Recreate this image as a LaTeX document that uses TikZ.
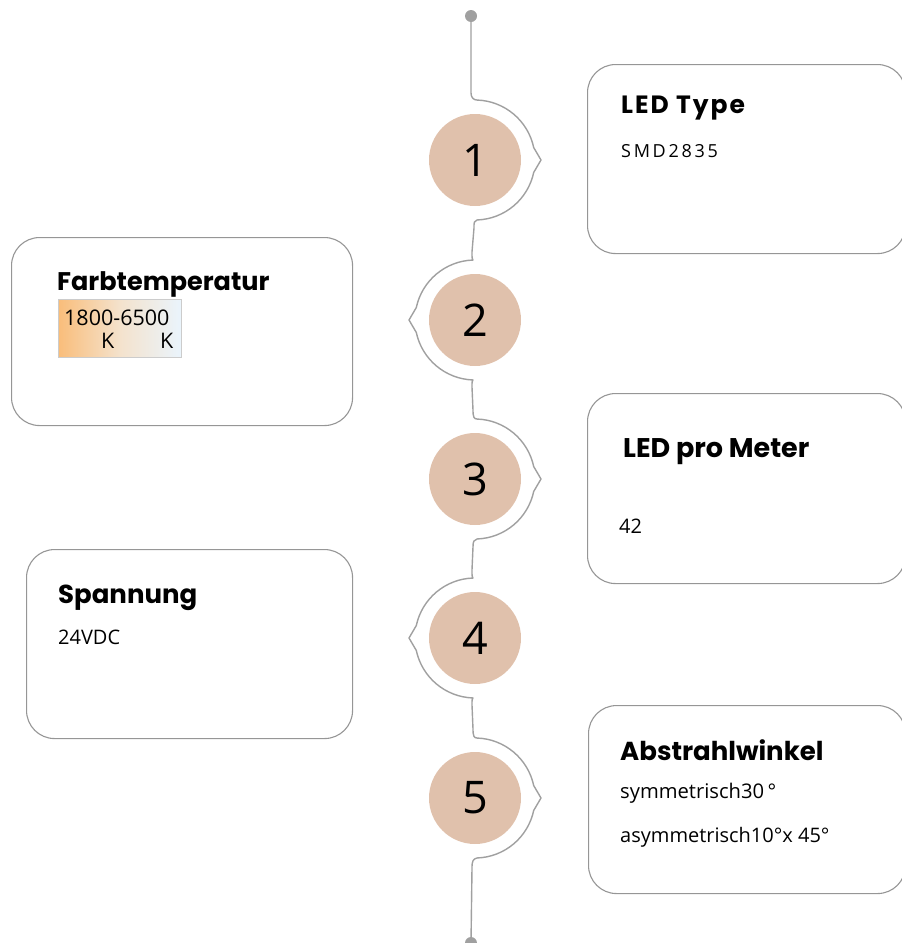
\documentclass[tikz,border=0pt]{standalone}
\usepackage{fontspec}
\setmainfont{Open Sans}
\newfontfamily\titlefont{Poppins}
\usetikzlibrary{calc}
\definecolor{peach}{RGB}{224,193,172}
\definecolor{wiregray}{RGB}{160,160,160}
\definecolor{boxgray}{RGB}{150,150,150}
\definecolor{gorange}{RGB}{249,189,122}
\definecolor{gcream}{RGB}{244,226,204}
\definecolor{gblue}{RGB}{234,244,252}
\tikzset{
  numc/.style={circle, fill=peach, minimum size=92pt, inner sep=0pt,
    font=\fontsize{45}{48}\selectfont},
  dot/.style={circle, fill=wiregray, minimum size=12pt, inner sep=0pt},
  wire/.style={draw=wiregray, line width=1.4pt, line join=round},
  card/.style={draw=boxgray, line width=1.1pt, rounded corners=28pt, anchor=north west, inner sep=0pt},
  ttl/.style={anchor=base west, inner sep=0pt, font=\titlefont\bfseries\fontsize{26}{30}\selectfont},
  txt/.style={anchor=base west, inner sep=0pt, font=\fontsize{20}{23}\selectfont},
}
\begin{document}
\begin{tikzpicture}[x=1pt,y=-1pt]
\useasboundingbox (0,0) rectangle (902,943);

% boxes
\node[card, minimum width=318pt, minimum height=189pt] (b1) at (587,64) {};
\node[card, minimum width=341pt, minimum height=188pt] (b2) at (11,237) {};
\node[card, minimum width=318pt, minimum height=190pt] (b3) at (587,393) {};
\node[card, minimum width=326pt, minimum height=189pt] (b4) at (26,549) {};
\node[card, minimum width=317pt, minimum height=188pt] (b5) at (588,705) {};

% circles
\node[numc] (c1) at (475,160) {1};
\node[numc] (c2) at (475,320) {2};
\node[numc] (c3) at (475,479) {3};
\node[numc] (c4) at (475,638) {4};
\node[numc] (c5) at (475,798) {5};

\node[dot] (dtop) at (471,16) {};
\node[dot] (dbot) at (471,943) {};

% timeline wire
\draw[wire] (dtop.center) -- ($(dtop.center)+(0,77)$)
  .. controls ($(c1)+(-4,-62)$) and ($(c1)+(-1,-60)$) .. ($(c1)+(-88:60)$)
  arc[start angle=-88, end angle=-12, radius=60] -- ($(c1)+(66,0)$) -- ($(c1)+(12:60)$)
  arc[start angle=12, end angle=88, radius=60]
  .. controls ($(c1)+(-1,61)$) and ($(c1)+(-1,62)$) .. ($(c1)+(-1,68)$)
  -- ($(c2)+(-3,-68)$)
  .. controls ($(c2)+(-3,-62)$) and ($(c2)+(-3,-61)$) .. ($(c2)+(-92:60)$)
  arc[start angle=-92, end angle=-168, radius=60] -- ($(c2)+(-66,0)$) -- ($(c2)+(168:60)$)
  arc[start angle=168, end angle=92, radius=60]
  .. controls ($(c2)+(-3,61)$) and ($(c2)+(-3,62)$) .. ($(c2)+(-3,67)$)
  -- ($(c3)+(-2,-69)$)
  .. controls ($(c3)+(-2,-62)$) and ($(c3)+(-1,-60)$) .. ($(c3)+(-88:60)$)
  arc[start angle=-88, end angle=-12, radius=60] -- ($(c3)+(66,0)$) -- ($(c3)+(12:60)$)
  arc[start angle=12, end angle=88, radius=60]
  .. controls ($(c3)+(-1,61)$) and ($(c3)+(-2,62)$) .. ($(c3)+(-2,68)$)
  -- ($(c4)+(-3,-68)$)
  .. controls ($(c4)+(-3,-62)$) and ($(c4)+(-3,-61)$) .. ($(c4)+(-92:60)$)
  arc[start angle=-92, end angle=-168, radius=60] -- ($(c4)+(-66,0)$) -- ($(c4)+(168:60)$)
  arc[start angle=168, end angle=92, radius=60]
  .. controls ($(c4)+(-3,61)$) and ($(c4)+(-3,62)$) .. ($(c4)+(-3,67)$)
  -- ($(c5)+(-2,-69)$)
  .. controls ($(c5)+(-2,-62)$) and ($(c5)+(-1,-60)$) .. ($(c5)+(-88:60)$)
  arc[start angle=-88, end angle=-12, radius=60] -- ($(c5)+(66,0)$) -- ($(c5)+(12:60)$)
  arc[start angle=12, end angle=88, radius=60]
  .. controls ($(c5)+(-2,61)$) and ($(c5)+(-3,63)$) .. ($(c5)+(-3,70)$)
  -- (dbot.center);

% box 1
\node[ttl, font=\titlefont\bfseries\fontsize{25}{28}\selectfont\addfontfeatures{LetterSpace=8}] (t1) at (621,113) {LED Type};
\node[txt, font=\fontsize{18}{22}\selectfont\addfontfeatures{LetterSpace=15}] (s1) at (621,157) {SMD2835};

% box 2
\node[ttl, font=\titlefont\bfseries\fontsize{25.5}{30}\selectfont] (t2) at (57,290) {Farbtemperatur};
\shade[left color=gorange, right color=gblue, middle color=gcream] (58,299) rectangle (181,357);
\draw[draw=black!20, line width=0.8pt] (58,299) rectangle (181,357);
\node[txt, font=\fontsize{21.5}{24}\selectfont] (s2a) at (64,325) {1800-6500};
\node[txt, font=\fontsize{21.5}{24}\selectfont] (s2b) at (101,348) {K};
\node[txt, font=\fontsize{21.5}{24}\selectfont] (s2c) at (160,348) {K};

% box 3
\node[ttl, font=\titlefont\bfseries\fontsize{27}{30}\selectfont] (t3) at (623,457) {LED pro Meter};
\node[txt] (s3) at (619,533) {42};

% box 4
\node[ttl] (t4) at (58,603) {Spannung};
\node[txt] (s4) at (58,644) {24VDC};

% box 5
\node[ttl] (t5) at (620,760) {Abstrahlwinkel};
\node[txt, font=\fontsize{20.2}{23}\selectfont] (s5a) at (620,798) {symmetrisch30\,°};
\node[txt, font=\fontsize{20}{23}\selectfont] (s5b) at (620,842) {asymmetrisch10°x 45°};
\end{tikzpicture}
\end{document}
